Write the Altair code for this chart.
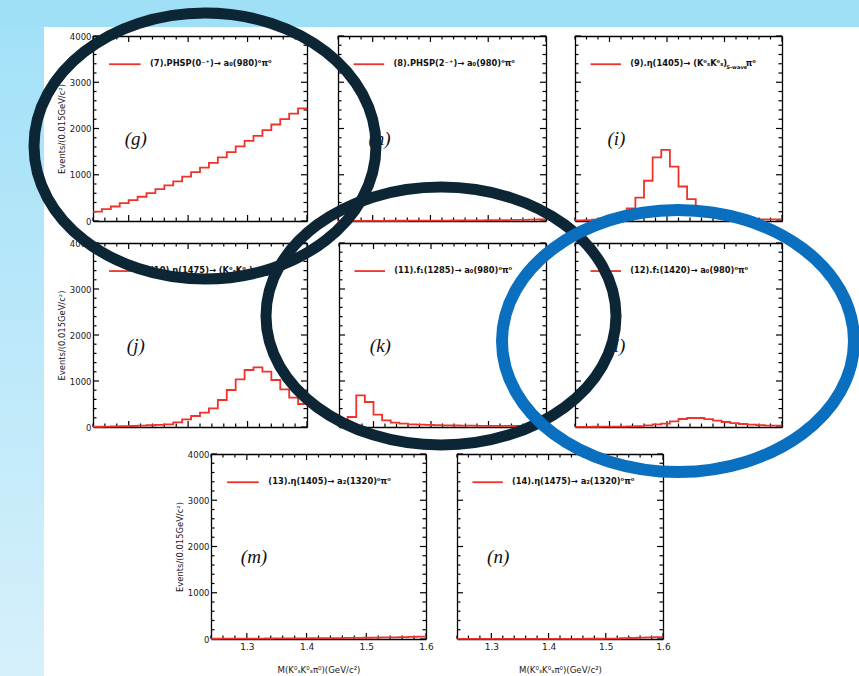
import altair as alt
import pandas as pd

W, H = 859, 676

# 24 bins of 0.015 GeV/c^2 between 1.24 and 1.60
X_LO, X_HI, BIN_W, N_BINS = 1.24, 1.60, 0.015, 24
Y_LO, Y_HI = 0, 4000

counts_g = [204, 255, 313, 385, 451, 524, 604, 691, 771, 858, 960, 1055,
            1156, 1258, 1375, 1491, 1615, 1731, 1840, 1964, 2087, 2204, 2320, 2436]
counts_h = [2, 2, 3, 3, 4, 4, 5, 5, 6, 7, 8, 9,
            10, 11, 12, 14, 15, 17, 19, 21, 23, 26, 29, 32]
counts_i = [15, 20, 30, 45, 80, 150, 275, 507, 870, 1377, 1536, 1174,
            746, 471, 280, 160, 90, 60, 45, 40, 38, 36, 35, 35]
counts_j = [5, 8, 12, 17, 22, 30, 38, 45, 58, 101, 167, 239,
            312, 406, 587, 804, 1036, 1239, 1297, 1203, 1022, 819, 640, 500]
counts_k = [15, 217, 688, 543, 268, 145, 94, 72, 58, 50, 45, 40,
            36, 33, 30, 28, 26, 25, 24, 23, 22, 21, 20, 20]
counts_l = [3, 4, 5, 6, 8, 10, 14, 20, 36, 55, 72, 123,
            174, 196, 196, 170, 140, 109, 85, 65, 50, 40, 32, 28]
counts_m = [5, 6, 7, 8, 9, 10, 11, 12, 13, 14, 15, 16,
            18, 19, 21, 23, 25, 27, 30, 33, 36, 40, 45, 52]
counts_n = [2, 2, 2, 2, 2, 2, 2, 3, 3, 3, 3, 3,
            4, 4, 4, 5, 5, 6, 10, 16, 22, 28, 34, 40]

panel_ids = ["g", "h", "i", "j", "k", "l", "m", "n"]
panel_counts = {"g": counts_g, "h": counts_h, "i": counts_i, "j": counts_j,
                "k": counts_k, "l": counts_l, "m": counts_m, "n": counts_n}
panel_legends = {
    "g": "(7).PHSP(0⁻⁺)→ a₀(980)⁰π⁰",
    "h": "(8).PHSP(2⁻⁺)→ a₀(980)⁰π⁰",
    "i": "(9).η(1405)→ (K⁰ₛK⁰ₛ)",
    "j": "(10).η(1475)→ (K⁰ₛK⁰ₛ)",
    "k": "(11).f₁(1285)→ a₀(980)⁰π⁰",
    "l": "(12).f₁(1420)→ a₀(980)⁰π⁰",
    "m": "(13).η(1405)→ a₂(1320)⁰π⁰",
    "n": "(14).η(1475)→ a₂(1320)⁰π⁰",
}
# S-wave subscript and trailing pi0 for the K0S K0S legends: (x of subscript, x of pi0)
swave_tail = {"i": (1.503, 1.537), "j": (1.512, 1.546)}

# plot-area pixel boxes: x0, x1, y0 (top), y1 (bottom)
panel_boxes = {
    "g": (93, 307, 36, 221), "h": (338, 546, 36, 221), "i": (575, 782, 36, 221),
    "j": (93, 307, 243, 427), "k": (339, 546, 243, 427), "l": (575, 782, 243, 427),
    "m": (211, 426, 454, 639), "n": (457, 663, 454, 639),
}
y_label_panels = {"g", "j", "m"}
x_label_panels = {"m", "n"}

X_MAJOR = [1.3, 1.4, 1.5, 1.6]
X_MINOR = [round(1.24 + 0.02 * i, 2) for i in range(19)]
Y_MAJOR = [0, 1000, 2000, 3000, 4000]
Y_MINOR = list(range(0, 4001, 200))
MAJOR_LEN, MINOR_LEN = 6, 3.5   # inward tick lengths, px

Y_TITLE = "Events/(0.015GeV/c²)"
X_TITLE = "M(K⁰ₛK⁰ₛπ⁰)(GeV/c²)"

# legend entry and panel tag placement in data coordinates
LEG_X1, LEG_X2, LEG_TX, LEG_Y = 1.267, 1.320, 1.336, 3390
TAG_X, TAG_Y = 1.312, 1.770e3

# highlight ellipses drawn over the figure (pixel centre, radii)
ell_cx = [205, 441, 678]
ell_cy = [146, 316, 341]
ell_rx = [171, 175, 176]
ell_ry = [133, 129, 131]
ell_color = ["#0c2636", "#0c2636", "#0a6fbf"]
ell_width = [11, 11, 12]

FRAME = "#000000"
RED = "#f0322a"
TXT = "#1a1a1a"
SANS = "DejaVu Sans"


def hist_frame(counts):
    edges = [round(X_LO + BIN_W * k, 3) for k in range(N_BINS + 1)]
    return pd.DataFrame({"mass": edges, "events": list(counts) + [counts[-1]]})


def edge_axis(orient, offset):
    return alt.Axis(orient=orient, offset=offset, ticks=False, labels=False,
                    title=None, grid=False, domain=True,
                    domainColor=FRAME, domainWidth=1.3)


def tick_tables(x0, x1, y0, y1):
    """Inward ROOT-style ticks on all four frame edges, in data units."""
    per_px_x = (X_HI - X_LO) / (x1 - x0)
    per_px_y = (Y_HI - Y_LO) / (y1 - y0)
    xt = []
    for v in X_MINOR:
        ln = (MAJOR_LEN if v in X_MAJOR else MINOR_LEN) * per_px_y
        xt.append({"v": v, "a": Y_LO, "b": Y_LO + ln})
        xt.append({"v": v, "a": Y_HI, "b": Y_HI - ln})
    yt = []
    for v in Y_MINOR:
        ln = (MAJOR_LEN if v in Y_MAJOR else MINOR_LEN) * per_px_x
        yt.append({"v": v, "a": X_LO, "b": X_LO + ln})
        yt.append({"v": v, "a": X_HI, "b": X_HI - ln})
    return pd.DataFrame(xt), pd.DataFrame(yt)


one = pd.DataFrame({"k": [0]})
layers = [
    alt.Chart(one).mark_rect(color="#9fe0f7").encode(
        x=alt.value(0), x2=alt.value(W), y=alt.value(0), y2=alt.value(27)),
    alt.Chart(one).mark_rect(color=alt.LinearGradient(
        gradient="linear", x1=0, y1=0, x2=0, y2=1,
        stops=[alt.GradientStop(color="#a3e1f8", offset=0),
               alt.GradientStop(color="#d6f0fb", offset=1)])).encode(
        x=alt.value(0), x2=alt.value(44), y=alt.value(27), y2=alt.value(H)),
]

for pid in panel_ids:
    x0, x1, y0, y1 = panel_boxes[pid]
    xs = alt.Scale(domain=[X_LO, X_HI], range=[x0, x1], nice=False, zero=False)
    ys = alt.Scale(domain=[Y_LO, Y_HI], range=[y1, y0], nice=False, zero=False)
    hist = hist_frame(panel_counts[pid])
    xt, yt = tick_tables(x0, x1, y0, y1)

    # frame: bottom + left edges, then top + right edges
    layers.append(alt.Chart(hist).mark_line(opacity=0).encode(
        x=alt.X("mass:Q", scale=xs, axis=edge_axis("top", -y1)),
        y=alt.Y("events:Q", scale=ys, axis=edge_axis("right", x0 - W))))
    layers.append(alt.Chart(hist).mark_line(opacity=0).encode(
        x=alt.X("mass:Q", scale=xs, axis=edge_axis("bottom", y0 - H)),
        y=alt.Y("events:Q", scale=ys, axis=edge_axis("left", -x1))))
    # inward ticks
    layers.append(alt.Chart(xt).mark_rule(color=FRAME, strokeWidth=1.2).encode(
        x=alt.X("v:Q", scale=xs, axis=None),
        y=alt.Y("a:Q", scale=ys, axis=None), y2="b:Q"))
    layers.append(alt.Chart(yt).mark_rule(color=FRAME, strokeWidth=1.2).encode(
        y=alt.Y("v:Q", scale=ys, axis=None),
        x=alt.X("a:Q", scale=xs, axis=None), x2="b:Q"))

    # histogram outline
    layers.append(alt.Chart(hist).mark_line(
        interpolate="step-after", color=RED, strokeWidth=1.8).encode(
        x=alt.X("mass:Q", scale=xs, axis=None),
        y=alt.Y("events:Q", scale=ys, axis=None)))

    # legend line, also carrying the labelled axes
    if pid in x_label_panels:
        x_lab = alt.Axis(orient="bottom", offset=y1 - H, values=X_MAJOR, format=".1f",
                         ticks=False, tickSize=0, domain=False, grid=False,
                         labelPadding=3, labelFont=SANS, labelFontSize=9, labelColor=TXT,
                         labelFlush=False, labelOverlap=False,
                         title=X_TITLE, titleFont=SANS, titleFontSize=8.6,
                         titleFontWeight="normal", titleColor=TXT, titlePadding=14)
    else:
        x_lab = None
    if pid in y_label_panels:
        y_lab = alt.Axis(orient="left", offset=-x0, values=Y_MAJOR, format="d",
                         ticks=False, tickSize=0, domain=False, grid=False,
                         labelPadding=2, labelFont=SANS, labelFontSize=8.5, labelColor=TXT,
                         labelFlush=False, labelOverlap=False,
                         title=Y_TITLE, titleFont=SANS, titleFontSize=8.4,
                         titleFontWeight="normal", titleColor=TXT, titlePadding=3)
    else:
        y_lab = None
    leg = pd.DataFrame({"a": [LEG_X1], "b": [LEG_X2], "c": [LEG_Y]})
    layers.append(alt.Chart(leg).mark_rule(color=RED, strokeWidth=1.8).encode(
        x=alt.X("a:Q", scale=xs, axis=x_lab),
        x2="b:Q",
        y=alt.Y("c:Q", scale=ys, axis=y_lab)))

    txt = pd.DataFrame({"a": [LEG_TX], "c": [LEG_Y], "t": [panel_legends[pid]]})
    layers.append(alt.Chart(txt).mark_text(
        align="left", baseline="middle", font=SANS, fontSize=8.3,
        fontWeight="bold", color="#111111").encode(
        x=alt.X("a:Q", scale=xs, axis=None),
        y=alt.Y("c:Q", scale=ys, axis=None),
        text="t:N"))
    if pid in swave_tail:
        sx, px = swave_tail[pid]
        sub = pd.DataFrame({"a": [sx], "c": [LEG_Y], "t": ["S-wave"]})
        layers.append(alt.Chart(sub).mark_text(
            align="left", baseline="middle", dy=3, font=SANS, fontSize=5.2,
            fontWeight="bold", color="#111111").encode(
            x=alt.X("a:Q", scale=xs, axis=None),
            y=alt.Y("c:Q", scale=ys, axis=None),
            text="t:N"))
        pi = pd.DataFrame({"a": [px], "c": [LEG_Y], "t": ["π⁰"]})
        layers.append(alt.Chart(pi).mark_text(
            align="left", baseline="middle", font=SANS, fontSize=8.3,
            fontWeight="bold", color="#111111").encode(
            x=alt.X("a:Q", scale=xs, axis=None),
            y=alt.Y("c:Q", scale=ys, axis=None),
            text="t:N"))

    tag = pd.DataFrame({"a": [TAG_X], "c": [TAG_Y], "t": [f"({pid})"]})
    layers.append(alt.Chart(tag).mark_text(
        align="center", baseline="middle", font="Liberation Serif", fontSize=19,
        fontStyle="italic", color="#111111").encode(
        x=alt.X("a:Q", scale=xs, axis=None),
        y=alt.Y("c:Q", scale=ys, axis=None),
        text="t:N"))


def ellipse_path(ratio, k=0.5523):
    b = ratio
    return (f"M 1 0 C 1 {k*b:.4f} {k:.4f} {b:.4f} 0 {b:.4f} "
            f"C {-k:.4f} {b:.4f} -1 {k*b:.4f} -1 0 "
            f"C -1 {-k*b:.4f} {-k:.4f} {-b:.4f} 0 {-b:.4f} "
            f"C {k:.4f} {-b:.4f} 1 {-k*b:.4f} 1 0 Z")


px_x = alt.Scale(domain=[0, W], range=[0, W], nice=False, zero=False)
px_y = alt.Scale(domain=[0, H], range=[0, H], nice=False, zero=False)
for cx, cy, rx, ry, col, sw in zip(ell_cx, ell_cy, ell_rx, ell_ry, ell_color, ell_width):
    e = pd.DataFrame({"cx": [cx], "cy": [cy]})
    layers.append(alt.Chart(e).mark_point(
        shape=ellipse_path(ry / rx), size=(2 * rx) ** 2, filled=False,
        color=col, strokeWidth=sw, opacity=1).encode(
        x=alt.X("cx:Q", scale=px_x, axis=None),
        y=alt.Y("cy:Q", scale=px_y, axis=None)))

chart = alt.layer(*layers).resolve_scale(
    x="independent", y="independent").resolve_axis(
    x="independent", y="independent").properties(
    width=W, height=H, padding=0, autosize="none", background="white"
).configure_view(stroke=None).configure_axis(grid=False)

chart.save("out.html", embed_options={"renderer": "svg", "actions": False})
